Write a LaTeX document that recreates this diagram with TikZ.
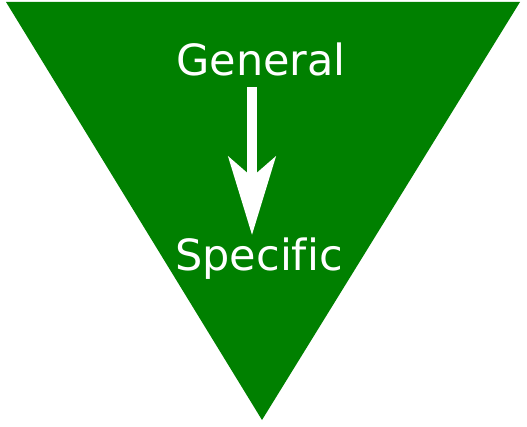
\documentclass[tikz,border=0pt]{standalone}
\usepackage{fontspec}
\usetikzlibrary{arrows.meta}
\newfontfamily\labelfont[Ligatures=NoCommon]{DejaVu Sans}
\definecolor{funnelgreen}{HTML}{008000}
\tikzset{
  funnel/.style={fill=funnelgreen,draw=none},
  levellabel/.style={text=white,inner sep=0pt,anchor=base,
    font=\labelfont\fontsize{43}{46}\selectfont},
  downarrow/.style={draw=white,line width=10pt,
    -{Stealth[length=78pt,width=47pt,inset=20pt]}}
}
\begin{document}
\begin{tikzpicture}[x=1pt,y=-1pt]
  \useasboundingbox (0,0) rectangle (527,427);
  % inverted triangle
  \fill[funnel] (6,2) -- (520,2) -- (262,420) -- cycle;
  \node[levellabel] (general) at (261,76) {General};
  \node[levellabel] (specific) at (259,271) {Specific};
  \draw[downarrow] ([xshift=-9pt,yshift=-11pt]general.base)
    -- ([xshift=-7pt,yshift=36pt]specific.base);
\end{tikzpicture}
\end{document}
